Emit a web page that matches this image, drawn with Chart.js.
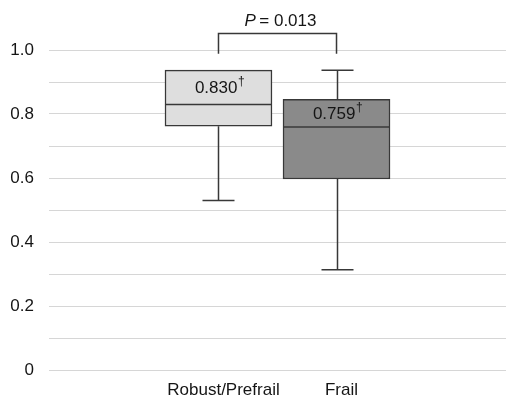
<!DOCTYPE html>
<html>
<head>
<meta charset="utf-8">
<script src="https://cdn.jsdelivr.net/npm/chart.js@4.4.1/dist/chart.umd.min.js"></script>
<style>
  html, body { margin: 0; padding: 0; background: #ffffff; }
  #wrap { width: 506px; height: 400px; }
</style>
</head>
<body>
<div id="wrap"><canvas id="c" width="506" height="400"></canvas></div>
<script>
// Groups and their five-number summaries
const categories = ['Robust/Prefrail', 'Frail'];
const whiskerMin = [0.530, 0.313];
const quartile1  = [0.762, 0.597];
const medians    = [0.830, 0.759];
const quartile3  = [0.937, 0.846];
const whiskerMax = [0.937, 0.937];
const medianLabels = ['0.830', '0.759'];
const pValueText = '0.013';
const yTickValues = [0, 0.2, 0.4, 0.6, 0.8, 1.0];

const boxFills = ['#dedede', '#8a8a8a'];
const lineColor = '#383838';
const textColor = '#151515';
const fontFamily = '"Liberation Sans", Arial, Helvetica, sans-serif';

const boxData = categories.map((c, i) => ({ x: i + 1, y: [quartile1[i], quartile3[i]] }));

const boxPlotExtras = {
  id: 'boxPlotExtras',
  beforeDatasetsDraw(chart) {
    const ctx = chart.ctx, xs = chart.scales.x, ys = chart.scales.y;
    ctx.save();
    ctx.strokeStyle = lineColor;
    ctx.lineWidth = 1.5;
    categories.forEach((c, i) => {
      const cx = Math.round(xs.getPixelForValue(i + 1)) + 0.5;
      const capHalf = 16;
      const pairs = [[quartile3[i], whiskerMax[i]], [quartile1[i], whiskerMin[i]]];
      pairs.forEach(([from, to]) => {
        if (Math.abs(from - to) < 1e-9) return;
        const y0 = ys.getPixelForValue(from), y1 = ys.getPixelForValue(to);
        ctx.beginPath();
        ctx.moveTo(cx, y0); ctx.lineTo(cx, y1);
        ctx.moveTo(cx - capHalf, y1); ctx.lineTo(cx + capHalf, y1);
        ctx.stroke();
      });
    });
    ctx.restore();
  },
  afterDatasetsDraw(chart) {
    const ctx = chart.ctx, xs = chart.scales.x, ys = chart.scales.y;
    const meta = chart.getDatasetMeta(0);
    ctx.save();
    categories.forEach((c, i) => {
      const bar = meta.data[i];
      const half = bar.width / 2;
      const my = ys.getPixelForValue(medians[i]);
      // median line
      ctx.strokeStyle = lineColor;
      ctx.lineWidth = 1.5;
      ctx.beginPath();
      ctx.moveTo(bar.x - half, my); ctx.lineTo(bar.x + half, my);
      ctx.stroke();
      // median value with dagger
      const ty = (ys.getPixelForValue(quartile3[i]) + my) / 2 + 1;
      ctx.fillStyle = textColor;
      ctx.textBaseline = 'middle';
      ctx.font = '17px ' + fontFamily;
      const mainW = ctx.measureText(medianLabels[i]).width;
      ctx.font = '12px ' + fontFamily;
      const supW = ctx.measureText('†').width;
      const startX = bar.x - (mainW + supW) / 2 + 1;
      ctx.textAlign = 'left';
      ctx.font = '17px ' + fontFamily;
      ctx.fillText(medianLabels[i], startX, ty);
      ctx.font = '12px ' + fontFamily;
      ctx.fillText('†', startX + mainW + 0.5, ty - 7);
    });

    // significance bracket between the two groups
    const x1 = xs.getPixelForValue(1), x2 = xs.getPixelForValue(2);
    const yTop = Math.round(ys.getPixelForValue(1.053)) + 0.5;
    const yLeg = ys.getPixelForValue(0.988);
    ctx.strokeStyle = lineColor;
    ctx.lineWidth = 1.5;
    ctx.beginPath();
    ctx.moveTo(x1, yLeg); ctx.lineTo(x1, yTop); ctx.lineTo(x2, yTop); ctx.lineTo(x2, yLeg);
    ctx.stroke();

    const py = ys.getPixelForValue(1.09);
    ctx.fillStyle = textColor;
    ctx.textBaseline = 'middle';
    ctx.textAlign = 'left';
    ctx.font = 'italic 17px ' + fontFamily;
    const pW = ctx.measureText('P').width;
    ctx.font = '17px ' + fontFamily;
    const restText = '\u2009= ' + pValueText;
    const rW = ctx.measureText(restText).width;
    const px = (x1 + x2) / 2 + 3 - (pW + rW) / 2;
    ctx.font = 'italic 17px ' + fontFamily;
    ctx.fillText('P', px, py);
    ctx.font = '17px ' + fontFamily;
    ctx.fillText(restText, px + pW, py);
    ctx.restore();
  }
};

new Chart(document.getElementById('c'), {
  type: 'bar',
  data: {
    datasets: [{
      data: boxData,
      backgroundColor: boxFills,
      borderColor: lineColor,
      borderWidth: 1.5,
      borderSkipped: false,
      barThickness: 107,
      grouped: false
    }]
  },
  options: {
    responsive: false,
    animation: false,
    devicePixelRatio: 1,
    layout: { padding: { top: 50, right: 0, left: 0, bottom: 0 } },
    plugins: { legend: { display: false }, tooltip: { enabled: false } },
    scales: {
      x: {
        type: 'linear',
        min: -0.436,
        max: 3.436,
        offset: false,
        grid: { display: false, drawTicks: false, offset: false },
        border: { display: false },
        afterBuildTicks(scale) {
          scale.ticks = categories.map((c, i) => ({ value: i + 1 }));
        },
        afterFit(scale) { scale.height = 30; },
        ticks: {
          autoSkip: false,
          maxRotation: 0,
          padding: 10,
          labelOffset: 5,
          color: textColor,
          font: { family: fontFamily, size: 17 },
          callback: (v) => categories[Math.round(v) - 1] || ''
        }
      },
      y: {
        min: 0,
        max: 1.0,
        grid: { color: '#d6d6d6', lineWidth: 1, drawTicks: false },
        border: { display: false },
        afterFit(scale) { scale.width = 49; },
        ticks: {
          stepSize: 0.1,
          padding: 15,
          color: textColor,
          font: { family: fontFamily, size: 17 },
          callback: (v) => {
            const hit = yTickValues.find(t => Math.abs(t - v) < 1e-6);
            if (hit === undefined) return '';
            return hit === 0 ? '0' : hit.toFixed(1);
          }
        }
      }
    }
  },
  plugins: [boxPlotExtras]
});
</script>
</body>
</html>
